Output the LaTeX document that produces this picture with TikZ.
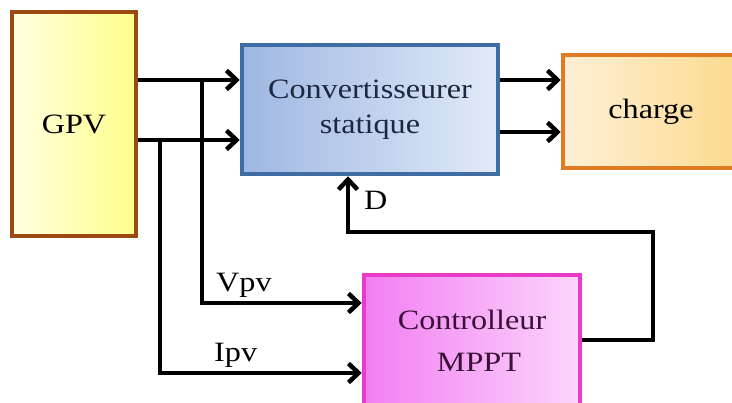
\documentclass[tikz,border=0pt]{standalone}
\usepackage{fontspec}
\setmainfont[FakeStretch=1.15]{Liberation Serif}
\usetikzlibrary{arrows.meta}
\definecolor{gpvborder}{HTML}{9A4A10}
\definecolor{gpvlight}{HTML}{FFFFE0}
\definecolor{gpvdark}{HTML}{FFFF8C}
\definecolor{convborder}{HTML}{3F6DA3}
\definecolor{convdark}{HTML}{9EB7E2}
\definecolor{convlight}{HTML}{E2EAF7}
\definecolor{convtext}{HTML}{1C2740}
\definecolor{chgborder}{HTML}{E27A22}
\definecolor{chglight}{HTML}{FEF0D6}
\definecolor{chgdark}{HTML}{FCD98C}
\definecolor{mpptborder}{HTML}{E83CC8}
\definecolor{mpptdark}{HTML}{F27EF2}
\definecolor{mpptlight}{HTML}{FCD6FC}
\definecolor{mppttext}{HTML}{3A1238}
\tikzset{
  blk/.style={rectangle, line width=4.5pt, inner sep=0pt, align=center,
    font=\fontsize{28}{35}\selectfont},
  wire/.style={line width=4.5pt, line join=miter},
  feed/.style={wire, -{Straight Barb[length=10pt,width=19pt,line width=4.5pt]}},
  lbl/.style={font=\fontsize{28}{34}\selectfont, inner sep=0pt, anchor=base west}
}
\begin{document}
\begin{tikzpicture}[x=1pt,y=-1pt]
\useasboundingbox (0,0) rectangle (732,403);
\clip (0,0) rectangle (732,403);
\fill[white] (0,0) rectangle (732,403);

% blocks
\node[blk, draw=gpvborder, left color=gpvlight, right color=gpvdark,
      minimum width=124pt, minimum height=224pt] (gpv) at (74,124) {GPV};
\node[blk, draw=convborder, left color=convdark, right color=convlight,
      text=convtext, minimum width=256pt, minimum height=129pt] (conv) at (370,109.5)
      {Convertisseurer\\statique};
\node[blk, draw=chgborder, left color=chglight, right color=chgdark,
      minimum width=180pt, minimum height=113pt] (chg) at (653,111.5) {\hspace*{-4pt}charge};
\node[blk, draw=mpptborder, left color=mpptdark, right color=mpptlight,
      text=mppttext, minimum width=216pt, minimum height=132pt,
      font=\fontsize{28}{42}\selectfont] (mppt) at (472,341) {Controlleur\\\hspace*{14pt}MPPT};

% junction points of the measurement taps
\coordinate (tapV) at (202,80);
\coordinate (tapI) at (160,140);
\coordinate (fbA) at (653,340);
\coordinate (fbB) at (653,232);
\coordinate (fbC) at (348,232);

% power path
\draw[feed] (gpv.east |- tapV) -- (conv.west |- tapV);
\draw[feed] (gpv.east |- tapI) -- (conv.west |- tapI);
\draw[feed] (conv.east |- 0,80) -- (chg.west |- 0,80);
\draw[feed] (conv.east |- 0,132) -- (chg.west |- 0,132);

% measurements to the controller
\draw[feed] (tapV) -- (tapV |- 0,303) -- (mppt.west |- 0,303);
\draw[feed] (tapI) -- (tapI |- 0,373) -- (mppt.west |- 0,373);

% duty-cycle feedback
\draw[feed] (mppt.east |- fbA) -- (fbA) -- (fbB) -- (fbC) -- (fbC |- conv.south);

% signal labels
\node[lbl] (labV) at (216,292) {Vpv};
\node[lbl] (labI) at (214,362) {Ipv};
\node[lbl] (labD) at (364,210) {D};
\end{tikzpicture}
\end{document}
